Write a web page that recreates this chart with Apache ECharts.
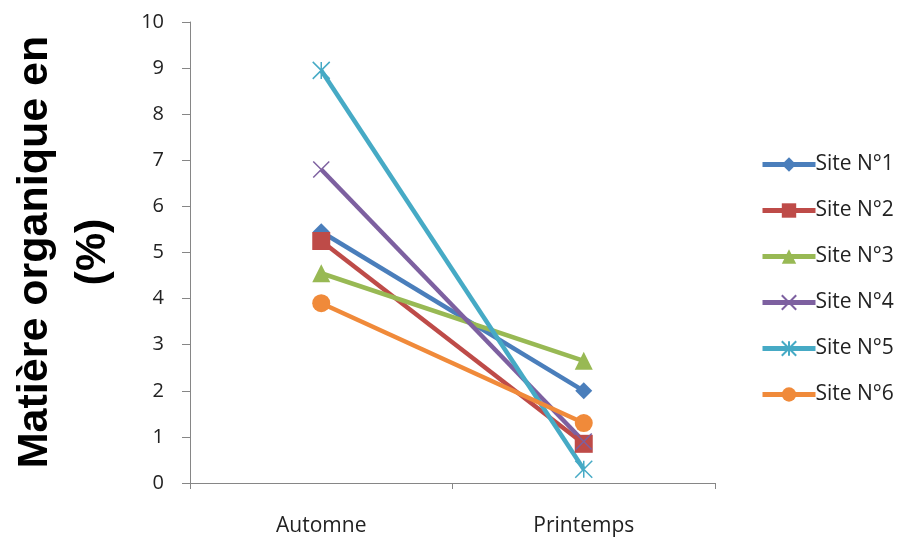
<!DOCTYPE html>
<html>
<head>
<meta charset="utf-8">
<script src="https://cdn.jsdelivr.net/npm/echarts@6/dist/echarts.min.js"></script>
<style>
  html, body { margin: 0; padding: 0; background: #fff; }
  #chart { width: 902px; height: 540px; }
</style>
</head>
<body>
<div id="chart"></div>
<script>
// catégories et valeurs
var saisons = ['Automne', 'Printemps'];
var site1 = [5.45, 2.0];
var site2 = [5.25, 0.85];
var site3 = [4.55, 2.65];
var site4 = [6.8, 0.9];
var site5 = [8.95, 0.3];
var site6 = [3.9, 1.3];
var yTicks = [0, 1, 2, 3, 4, 5, 6, 7, 8, 9, 10];

var croix = 'path://M0,0L10,10M10,0L0,10';
var etoile = 'path://M0,0L10,10M10,0L0,10M5,0L5,10';

function serie(nom, data, couleur, symbole, taille, trait) {
    var s = {
        name: nom,
        type: 'line',
        data: data,
        symbol: symbole,
        symbolSize: taille,
        lineStyle: { color: couleur, width: 4.5 },
        itemStyle: { color: couleur }
    };
    if (trait) {
        // symboles en traits (croix, étoile)
        s.itemStyle = { color: 'none', borderColor: couleur, borderWidth: 1.5 };
    }
    return s;
}

var chart = echarts.init(document.getElementById('chart'));
chart.setOption({
    animation: false,
    textStyle: { fontFamily: 'Open Sans' },
    grid: { left: 190, right: 187, top: 22, bottom: 57 },
    legend: {
        orient: 'vertical',
        left: 755,
        top: 149,
        itemWidth: 53,
        itemHeight: 18,
        itemGap: 25,
        lineStyle: { width: 5 },
        textStyle: { fontSize: 21, color: '#222', fontFamily: 'Open Sans', padding: [0, 0, 0, -5] },
        data: ['Site N°1', 'Site N°2', 'Site N°3', 'Site N°4', 'Site N°5', 'Site N°6']
    },
    xAxis: {
        type: 'category',
        data: saisons,
        boundaryGap: true,
        axisLine: { lineStyle: { color: '#868686', width: 1 } },
        axisTick: { show: true, length: 6, lineStyle: { color: '#868686' } },
        axisLabel: { fontSize: 21, color: '#222', margin: 33 },
        splitLine: { show: false }
    },
    yAxis: {
        type: 'value',
        min: yTicks[0],
        max: yTicks[yTicks.length - 1],
        interval: 1,
        axisLine: { show: true, lineStyle: { color: '#868686', width: 1 } },
        axisTick: { show: true, length: 8, lineStyle: { color: '#868686' } },
        axisLabel: { fontSize: 20, color: '#222', margin: 26 },
        splitLine: { show: false }
    },
    graphic: [{
        type: 'text',
        x: 64,
        y: 252,
        rotation: Math.PI / 2,
        style: {
            text: 'Matière organique en\n(%)',
            font: 'bold 43px "Liberation Sans"',
            lineHeight: 58,
            fill: '#000',
            align: 'center',
            verticalAlign: 'middle'
        }
    }],
    series: [
        serie('Site N°1', site1, '#4A7EBB', 'diamond', 17),
        serie('Site N°2', site2, '#BE4B48', 'rect', 18),
        serie('Site N°3', site3, '#98B954', 'triangle', 18),
        serie('Site N°4', site4, '#7D60A0', croix, 16, true),
        serie('Site N°5', site5, '#46AAC5', etoile, 17, true),
        serie('Site N°6', site6, '#F08A3A', 'circle', 18)
    ]
});
</script>
</body>
</html>
